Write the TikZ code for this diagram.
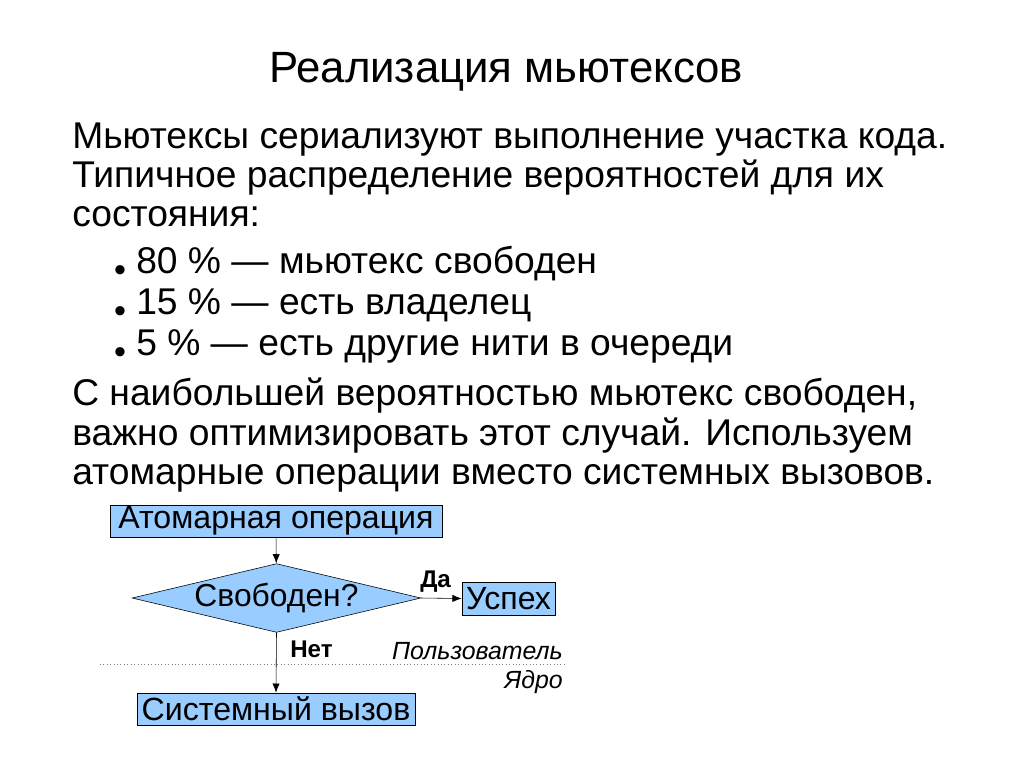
\documentclass[tikz,border=0pt]{standalone}
\usepackage{fontspec}
\setmainfont{Liberation Sans}
\usetikzlibrary{shapes.geometric,arrows.meta}

\definecolor{boxblue}{RGB}{153,204,255}

\tikzset{
    body/.style={anchor=base west, inner sep=0pt, font=\fontsize{26.2}{30}\selectfont},
    block/.style={draw, thin, fill=boxblue, inner sep=0pt, font=\fontsize{22.6}{26}\selectfont},
    decision/.style={draw, thin, fill=boxblue, diamond, aspect=4.2, inner sep=0pt,
        minimum width=199pt, minimum height=47pt, font=\fontsize{22.4}{26}\selectfont},
    flow/.style={-{Latex[length=6.5pt,width=5pt]}, thin},
    answer/.style={inner sep=0pt, font=\fontsize{17}{20}\selectfont\bfseries},
    ring/.style={inner sep=0pt, anchor=base east, font=\fontsize{17.5}{20}\selectfont\itshape}
}

\begin{document}
\begin{tikzpicture}[x=0.7038pt, y=-0.7038pt]
    % Page frame
    \useasboundingbox (0,0) rectangle (1023,767);

    % Title
    \node[anchor=base, inner sep=0pt, font=\fontsize{30.8}{34}\selectfont] (title) at (506,82) {Реализация мьютексов};

    % Intro lines
    \foreach \y/\txt in {148/{Мьютексы сериализуют выполнение участка кода.},
                         187/{Типичное распределение вероятностей для их},
                         226/{состояния:}}
        \node[body] (intro\y) at (72,\y) {\txt};

    % Bullet list
    \foreach \y/\txt in {273/{80 \% — мьютекс свободен},
                         314/{15 \% — есть владелец},
                         355/{5 \% — есть другие нити в очереди}}
    {
        \node[inner sep=0pt, anchor=base, font=\fontsize{24}{26}\selectfont] (dot\y) at (120,\y+8) {•};
        \node[body] (item\y) at (136,\y) {\txt};
    }

    % Conclusion lines
    \foreach \y/\txt in {405/{С наибольшей вероятностью мьютекс свободен,},
                         445/{важно оптимизировать этот случай. Используем},
                         484/{атомарные операции вместо системных вызовов.}}
        \node[body] (concl\y) at (72,\y) {\txt};

    % Flowchart
    \node[block, minimum width=233.7pt, minimum height=22.5pt] (atomic) at (276,521) {Атомарная операция};
    \node[decision] (free) at (276.5,598) {Свободен?};
    \node[block, minimum width=65.5pt, minimum height=23.2pt] (success) at (508.5,598.5) {Успех};
    \node[block, minimum width=195.7pt, minimum height=22.5pt] (syscall) at (276,709) {Системный вызов};

    \draw[flow] (atomic) -- (free);
    \draw[flow] (free.east) -- (success.west);
    \draw[flow] (free.south) -- (syscall.north);

    % Branch labels
    \node[answer, anchor=base west] (yes) at (420,587) {Да};
    \node[answer, anchor=base west] (no) at (290,657) {Нет};

    % User / kernel boundary
    \draw[gray, dotted] (100,664) -- (565,664);
    \node[ring] (user) at (563,659) {Пользователь};
    \node[ring] (kernel) at (563,688) {Ядро};
\end{tikzpicture}
\end{document}
